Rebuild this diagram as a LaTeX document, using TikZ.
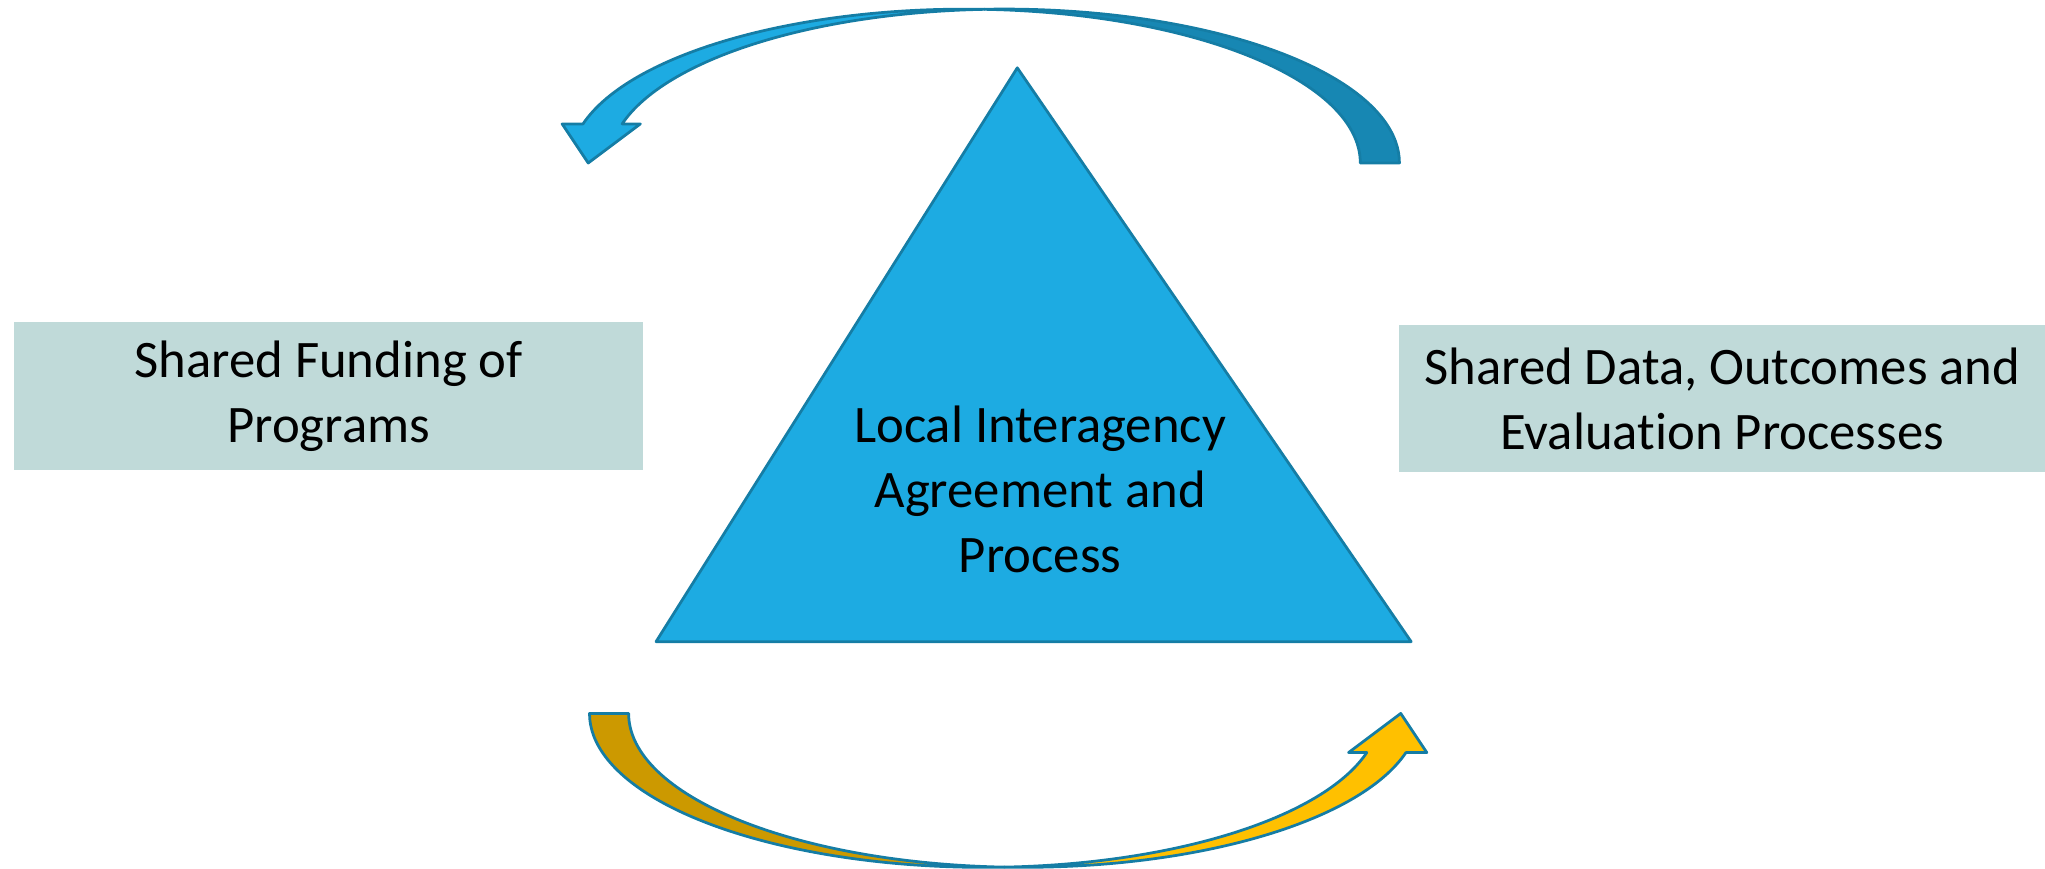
\documentclass[tikz,border=0pt]{standalone}
\usepackage{fontspec}
\setmainfont{Carlito}[Ligatures=NoCommon]
\usetikzlibrary{calc}
\definecolor{triblue}{RGB}{29,171,226}
\definecolor{edgeblue}{RGB}{21,125,165}
\definecolor{backblue}{RGB}{23,135,179}
\definecolor{boxteal}{RGB}{192,218,217}
\definecolor{frontgold}{RGB}{255,192,0}
\definecolor{backgold}{RGB}{204,153,0}

% curved arrow: #1 front colour (head side), #2 back colour (tail side)
\newcommand{\bentarrow}[2]{%
  % back part
  \filldraw[fill=#2, draw=edgeblue, line width=0.6pt, line join=round]
    (7.55,6.589) arc[start angle=92.84, end angle=0, x radius=3.03cm, y radius=1.18cm]
    -- (10.43,5.41) arc[start angle=0, end angle=87.16, x radius=3.03cm, y radius=1.18cm] -- cycle;
  % front part with head
  \filldraw[fill=#1, draw=edgeblue, line width=0.6pt, line join=round]
    (4.47,5.71) arc[start angle=165.27, end angle=87.16, x radius=3.03cm, y radius=1.18cm]
    arc[start angle=92.84, end angle=165.27, x radius=3.03cm, y radius=1.18cm]
    -- (4.91,5.71) -- (4.51,5.41) -- (4.31,5.71) -- cycle;
}

\tikzset{
  bodytext/.style={font=\fontsize{11.5}{14.2}\selectfont, align=center},
  boxnode/.style={bodytext, fill=boxteal, minimum height=1.13cm, inner sep=0pt}
}

\begin{document}
\begin{tikzpicture}
\useasboundingbox (0,0) rectangle (15.68,6.66);

% Top arrow (blue)
\bentarrow{triblue}{backblue}

% Bottom arrow (gold), same shape turned round
\begin{scope}[rotate around={180:(7.625,3.30)}]
\bentarrow{frontgold}{backgold}
\end{scope}

% Triangle
\coordinate (apex) at (7.80,6.14);
\coordinate (baseleft) at (5.03,1.74);
\coordinate (baseright) at (10.82,1.74);
\filldraw[fill=triblue, draw=edgeblue, line width=0.6pt, line join=round]
  (apex) -- (baseright) -- (baseleft) -- cycle;
\node[bodytext] (agreement) at (7.975,2.91) {Local Interagency\\Agreement and\\Process};

% Side boxes
\node[boxnode, minimum width=4.82cm] (funding) at (2.52,3.625) {Shared Funding of\\Programs};
\node[boxnode, minimum width=4.95cm] (outcomes) at (13.205,3.605) {Shared Data, Outcomes and\\Evaluation Processes};
\end{tikzpicture}
\end{document}
